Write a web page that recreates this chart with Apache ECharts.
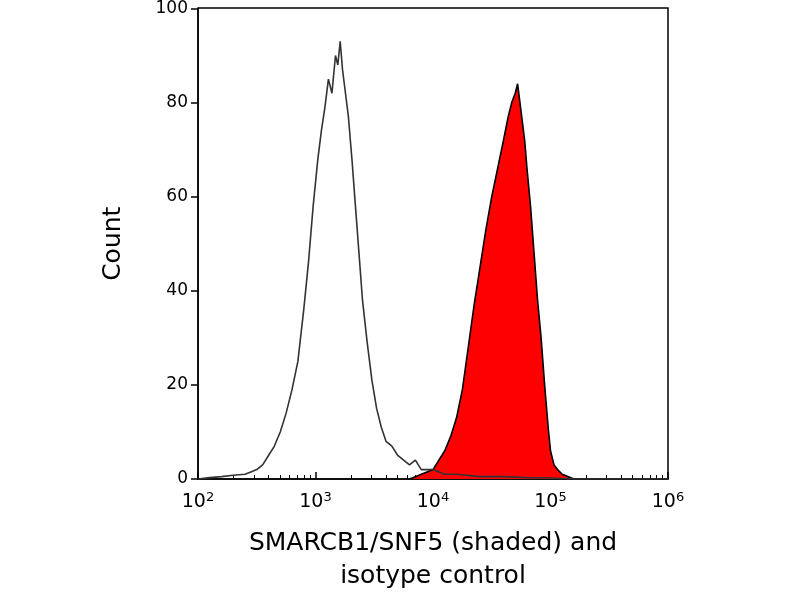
<!DOCTYPE html>
<html><head><meta charset="utf-8">
<script src="https://cdn.jsdelivr.net/npm/echarts@6/dist/echarts.min.js"></script>
<style>html,body{margin:0;background:#fff}#c{width:800px;height:600px}</style>
</head><body><div id="c"></div>
<script>
// x values are log10 of fluorescence, y = count
var isoLog = [2.0,2.1,2.2,2.3,2.4,2.45,2.5,2.55,2.6,2.65,2.7,2.75,2.8,2.85,2.9,2.94,2.98,3.02,3.05,3.08,3.11,3.14,3.17,3.19,3.21,3.23,3.25,3.28,3.31,3.34,3.37,3.4,3.44,3.48,3.52,3.56,3.6,3.65,3.7,3.75,3.8,3.85,3.9,3.95,4.0,4.1,4.2,4.4,4.6,4.8,5.0,5.2,6.0];
var isoCount = [0,0.3,0.5,0.8,1,1.5,2,3,5,7,10,14,19,25,36,46,58,68,74,79,85,82,90,88,93,87,83,77,68,58,48,38,29,21,15,11,8,7,5,4,3,4,2,2,2,1,1,0.5,0.5,0.3,0.2,0,0];
var shLog = [3.8,3.85,3.9,3.95,4.0,4.05,4.1,4.15,4.2,4.25,4.3,4.35,4.4,4.45,4.5,4.55,4.6,4.64,4.67,4.7,4.72,4.74,4.76,4.78,4.8,4.83,4.86,4.89,4.92,4.95,4.98,5.0,5.03,5.06,5.1,5.2];
var shCount = [0,0.5,1,1.5,2,4,6,9,13,19,28,37,45,53,60,66,72,77,80,82,84,80,76,72,66,58,48,38,30,20,11,6,3,2,1,0];
var xTicks = [2,3,4,5,6];
var yTicks = [0,20,40,60,80,100];

function pairs(lx, cy){ return lx.map(function(v,i){ return [Math.pow(10,v), cy[i]]; }); }

var chart = echarts.init(document.getElementById('c'));
var font = 'DejaVu Sans';
chart.setOption({
  animation:false,
  grid:{left:198,right:132,top:8,bottom:121},
  xAxis:{type:'log',logBase:10,min:100,max:1e6,
    name:'SMARCB1/SNF5 (shaded) and\nisotype control',nameLocation:'middle',nameGap:48,
    nameTextStyle:{fontFamily:font,fontSize:25,color:'#000',lineHeight:33},
    axisLine:{lineStyle:{color:'#000',width:1.5}},
    axisTick:{inside:true,length:7,lineStyle:{color:'#000',width:1.5}},
    minorTick:{show:true,splitNumber:9,length:4,lineStyle:{color:'#000'}},
    splitLine:{show:false},
    axisLabel:{margin:12,fontFamily:font,
      formatter:function(v){var e=Math.round(Math.log10(v));return '{b|10}{s|'+e+'}';},
      rich:{b:{fontSize:19,color:'#000',fontFamily:font},s:{fontSize:13,color:'#000',fontFamily:font,verticalAlign:'top',padding:[0,0,10,0]}}}},
  yAxis:{type:'value',min:0,max:100,interval:20,
    name:'Count',nameLocation:'middle',nameGap:72,
    nameTextStyle:{fontFamily:font,fontSize:25,color:'#000'},
    axisLine:{show:true,lineStyle:{color:'#000',width:1.5}},
    axisTick:{show:true,length:7,lineStyle:{color:'#000',width:1.5}},
    splitLine:{show:false},
    axisLabel:{fontFamily:font,fontSize:17,color:'#000',margin:10}},
  series:[
    {type:'line',data:pairs(shLog,shCount),showSymbol:false,z:2,
      lineStyle:{color:'#000',width:1.6},areaStyle:{color:'#ff0000',opacity:1}},
    {type:'line',data:pairs(isoLog,isoCount),showSymbol:false,z:3,
      lineStyle:{color:'#333',width:1.6}}
  ]
});
// right and top frame
chart.setOption({graphic:[{type:'rect',shape:{x:198,y:8,width:470,height:471},style:{fill:'none',stroke:'#000',lineWidth:1.5},silent:true}]});
</script></body></html>
